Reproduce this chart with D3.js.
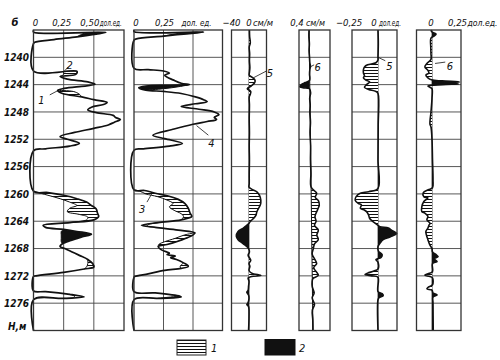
<!DOCTYPE html>
<html><head><meta charset="utf-8">
<script src="https://cdn.jsdelivr.net/npm/d3@7"></script>
<style>
body{margin:0;background:#fff;}
svg{display:block;}
text{font-family:"Liberation Sans Narrow","DejaVu Sans Condensed","Liberation Sans",sans-serif;font-style:italic;fill:#111;}
</style></head><body>
<svg id="c" width="500" height="360"></svg>
<script>
// ---------------- data ----------------
const depthTicks = [1240,1244,1248,1252,1256,1260,1264,1268,1272,1276];

// panel 1 (curves 1, 2), дол.ед.
const gk1 = [[1236.0,0],[1236.3,0],[1236.35,0.60],[1236.6,0.52],[1237.0,0.36],[1237.4,0.17],[1237.8,0.01],[1238.0,0],
 [1242.0,0],[1242.05,0.36],[1242.5,0.35],[1242.8,0.22],[1243.2,0.28],[1243.6,0.45],[1243.95,0.51],[1244.3,0.38],[1244.6,0.24],
 [1244.85,0.20],[1245.3,0.24],[1245.8,0.40],[1246.2,0.50],[1246.6,0.61],[1246.9,0.58],[1247.3,0.48],[1247.7,0.45],[1248.1,0.52],
 [1248.5,0.66],[1248.8,0.68],[1249.1,0.72],[1249.5,0.67],[1249.9,0.62],[1250.4,0.50],[1251.0,0.34],[1251.6,0.22],[1252.0,0.28],
 [1252.6,0.38],[1253.0,0.30],[1253.4,0.10],[1253.7,0],[1259.6,0],[1259.8,0.12],[1260.2,0.25],[1260.7,0.36],[1261.2,0.44],
 [1261.7,0.48],[1262.2,0.52],[1262.8,0.53],[1263.3,0.54],[1263.8,0.50],[1264.2,0.30],[1264.6,0.08],[1264.9,0.10],[1265.2,0.25],
 [1265.5,0.36],[1265.9,0.48],[1266.3,0.40],[1266.8,0.31],[1267.3,0.24],[1267.7,0.22],[1268.0,0.26],[1268.5,0.32],[1269.0,0.38],
 [1269.6,0.45],[1270.2,0.49],[1270.7,0.50],[1271.0,0.42],[1271.5,0.25],[1272.0,0.02],[1272.1,0],[1274.2,0],[1274.3,0.10],
 [1274.7,0.30],[1275.1,0.42],[1275.3,0.25],[1275.5,0],[1280,0]];
const gk1Alt = [
 {type:"black", pts:[[1236.35,0.60],[1236.5,0.42],[1237.0,0.36]]},
 {type:"hatch", pts:[[1242.05,0.36],[1242.15,0.25],[1242.5,0.25],[1242.8,0.22]]},
 {type:"hatch", pts:[[1244.85,0.20],[1245.0,0.33],[1245.4,0.38],[1245.8,0.40]]},
 {type:"hatch", pts:[[1259.6,0],[1259.7,0.02],[1260.2,0.12],[1260.7,0.22],[1261.2,0.30],[1261.7,0.36],[1262.1,0.30],[1262.6,0.28],[1263.0,0.38],[1263.4,0.45],[1263.8,0.44],[1264.2,0.30]]},
 {type:"black", pts:[[1265.2,0.25],[1265.5,0.23],[1266.0,0.23],[1266.5,0.23],[1267.0,0.23],[1267.3,0.24]]},
 {type:"hatch", pts:[[1269.6,0.45],[1270.2,0.45],[1270.7,0.44],[1271.0,0.42]]},
 {type:"hatch", pts:[[1274.7,0.30],[1275.0,0.34],[1275.2,0.33],[1275.3,0.25]]}
];

// panel 2 (curves 3, 4), дол.ед.
const gk2 = [[1236.0,0],[1236.25,0],[1236.3,0.59],[1236.6,0.42],[1236.9,0.25],[1237.3,0.02],[1237.5,0],[1241.6,0],[1241.8,0.12],
 [1242.0,0.25],[1242.3,0.30],[1242.6,0.26],[1242.9,0.28],[1243.3,0.33],[1243.8,0.40],[1244.0,0.47],[1244.1,0.30],[1244.2,0.10],
 [1244.45,0.04],[1244.8,0.10],[1245.0,0.25],[1245.3,0.40],[1245.8,0.52],[1246.2,0.59],[1246.5,0.62],[1246.8,0.52],[1247.2,0.40],
 [1247.6,0.55],[1248.0,0.68],[1248.4,0.72],[1248.8,0.68],[1249.1,0.70],[1249.4,0.62],[1249.8,0.50],[1250.5,0.34],[1251.4,0.16],
 [1251.9,0.26],[1252.6,0.41],[1253.0,0.30],[1253.4,0.08],[1253.6,0],[1259.4,0],[1259.5,0.09],[1259.9,0.18],[1260.3,0.29],
 [1260.8,0.375],[1261.4,0.43],[1262.1,0.46],[1262.8,0.475],[1263.3,0.49],[1263.8,0.40],[1264.2,0.205],[1264.6,0.063],[1264.9,0.18],
 [1265.3,0.375],[1265.7,0.517],[1266.0,0.50],[1266.5,0.44],[1267.0,0.36],[1267.4,0.28],[1267.7,0.205],[1268.2,0.233],[1268.7,0.30],
 [1268.9,0.28],[1269.1,0.35],[1269.35,0.31],[1269.6,0.36],[1270.1,0.42],[1270.6,0.46],[1270.9,0.40],[1271.2,0.26],[1271.7,0.12],
 [1272.1,0.006],[1272.2,0],[1274.3,0],[1274.5,0.18],[1275.0,0.39],[1275.1,0.40],[1275.3,0.2],[1275.5,0],[1280,0]];
const gk2Alt = [
 {type:"black", pts:[[1236.3,0.59],[1236.45,0.40],[1236.9,0.25]]},
 {type:"black", pts:[[1244.0,0.47],[1244.3,0.38],[1244.6,0.25],[1244.8,0.10]]},
 {type:"hatch", pts:[[1259.4,0],[1259.6,0.05],[1260.0,0.10],[1260.4,0.20],[1260.9,0.28],[1261.4,0.33],[1261.9,0.30],[1262.4,0.34],[1262.9,0.40],[1263.3,0.42],[1263.8,0.40]]},
 {type:"hatch", pts:[[1264.2,0.205],[1264.5,0.12],[1264.7,0.11],[1264.9,0.18]]},
 {type:"hatch", pts:[[1265.7,0.517],[1266.0,0.43],[1266.5,0.35],[1267.0,0.26],[1267.4,0.21],[1267.7,0.205]]},
 {type:"hatch", pts:[[1270.1,0.42],[1270.4,0.40],[1270.7,0.39],[1270.9,0.40]]},
 {type:"black", pts:[[1275.0,0.39],[1275.1,0.31],[1275.3,0.2]]}
];

// panel 3 (curve 5), см/м
const p3 = [[1236,1],[1237,1.5],[1237.9,3],[1238.5,0.5],[1239.5,1.5],[1240.5,1],[1241.5,2],[1242.2,1],[1242.6,0.5],[1243.0,9],
 [1243.4,14],[1243.8,12],[1244.2,5],[1244.6,-4],[1245.0,4],[1245.4,3],[1245.8,0.5],[1247,1],[1249,0.5],[1251,1],[1253,0.5],
 [1255,1],[1257,0.5],[1258.5,0.5],[1259.0,0],[1259.3,6],[1259.7,18],[1260.2,24],[1260.9,27],[1261.6,26],[1262.1,22],[1262.6,18],
 [1263.1,16],[1263.6,10],[1264.1,2],[1264.3,0],[1264.6,-5],[1265.0,-13],[1265.5,-25],[1266.2,-29],[1266.7,-25],[1267.3,-13],
 [1268.0,-1],[1268.5,1],[1269.0,-2],[1269.7,4],[1270.2,0],[1270.6,2],[1271.2,0],[1271.6,6],[1271.95,27],[1272.1,6],[1272.3,-2],
 [1272.8,0],[1273.5,-1],[1274.1,-2],[1274.4,-5],[1274.8,-1],[1275.3,0],[1275.9,-2],[1276.2,-5],[1276.5,-1],[1278,0],[1280,-1]];

// panel 4 (curve 6), см/м
const p4Base = [[1236,-0.07],[1280,-0.02]];
const p4 = [[1236,-0.07],[1237,-0.072],[1238,-0.066],[1239,-0.07],[1240,-0.064],[1240.8,-0.06],[1241.3,-0.052],[1241.8,-0.06],
 [1242.5,-0.064],[1243.0,-0.06],[1243.4,-0.065],[1243.7,-0.12],[1244.0,-0.17],[1244.3,-0.19],[1244.45,-0.15],[1244.6,-0.065],
 [1245.2,-0.05],[1246,-0.062],[1247,-0.055],[1248,-0.06],[1249.5,-0.052],[1251,-0.058],[1253,-0.05],[1255,-0.052],[1257,-0.046],
 [1259,-0.044],[1259.9,0.028],[1260.5,0.01],[1261.0,0.05],[1261.6,0.062],[1262.3,0.04],[1263.3,0.006],[1264.0,0.02],[1264.6,0.0],
 [1265.3,0.049],[1266.0,0.03],[1266.7,0.049],[1267.3,0.0],[1268,-0.015],[1268.8,-0.03],[1269.5,0.0],[1270.2,0.028],[1270.8,-0.01],
 [1271.9,0.049],[1272.4,-0.02],[1273.5,-0.03],[1274.5,-0.005],[1275.2,-0.03],[1276.2,0.0],[1277,-0.028],[1278.5,-0.022],[1280,-0.02]];

// panel 5 (curve 5), дол.ед.
const p5 = [[1236,0],[1238,0.003],[1240,0],[1240.4,0],[1240.8,-0.02],[1241.1,-0.10],[1241.4,-0.13],[1241.8,-0.14],[1242.3,-0.14],
 [1242.7,-0.13],[1243.0,-0.14],[1243.3,-0.12],[1243.6,-0.08],[1244.0,-0.11],[1244.4,-0.13],[1244.7,-0.09],[1245.0,-0.02],[1245.3,0],
 [1250,0.002],[1255,0],[1259.2,0],[1259.67,-0.09],[1259.9,-0.17],[1260.4,-0.21],[1260.9,-0.22],[1261.4,-0.19],[1261.6,-0.16],
 [1262.1,-0.17],[1262.3,-0.14],[1262.6,-0.11],[1263.1,-0.09],[1263.6,-0.08],[1264.1,-0.045],[1264.6,0],[1264.8,0.02],[1265.0,0.10],
 [1265.3,0.13],[1265.8,0.18],[1266.3,0.115],[1266.7,0.05],[1267.2,0.02],[1267.7,0],[1268.4,0.005],[1268.9,0.04],[1269.3,0.03],
 [1269.6,-0.02],[1270.0,0],[1271.0,0],[1271.3,-0.04],[1271.6,-0.10],[1271.8,-0.125],[1272.0,-0.06],[1272.2,0],[1274.3,0],
 [1274.6,0.04],[1274.9,0.05],[1275.2,0.01],[1275.5,0],[1280,0]];

// panel 6 (curve 6), дол.ед.
const p6 = [[1236.0,-0.01],[1236.3,0.0],[1236.6,0.04],[1236.9,0.02],[1237.2,-0.01],[1238.5,-0.012],[1239.5,-0.01],[1240.3,-0.01],
 [1240.9,-0.05],[1241.4,-0.07],[1241.9,-0.04],[1242.3,-0.03],[1242.6,-0.06],[1243.0,-0.04],[1243.3,-0.005],[1243.45,0.10],
 [1243.6,0.27],[1243.7,0.12],[1243.8,0.20],[1243.9,0.26],[1244.0,0.10],[1244.2,-0.04],[1244.4,-0.02],[1244.6,0],[1246,0],
 [1248,-0.01],[1249.8,-0.02],[1250.2,-0.01],[1252,0],[1255,0.005],[1258,0.01],[1259.1,0.005],[1259.4,-0.036],[1259.8,-0.085],
 [1260.4,-0.08],[1260.6,-0.04],[1261.1,-0.08],[1261.9,-0.10],[1262.6,-0.10],[1262.8,-0.07],[1263.3,-0.04],[1263.8,-0.05],
 [1264.3,-0.02],[1264.6,-0.03],[1265.0,-0.04],[1265.5,-0.06],[1266.0,-0.055],[1266.7,-0.04],[1267.5,-0.02],[1268.0,0],
 [1268.5,0.005],[1268.9,0.04],[1269.2,0.06],[1269.5,0.02],[1269.9,0.05],[1270.2,0.005],[1271.4,0.005],[1271.7,-0.04],
 [1271.9,-0.07],[1272.1,-0.02],[1272.3,0.005],[1273.3,0.005],[1273.7,-0.04],[1273.9,-0.05],[1274.1,0],[1274.5,0.01],
 [1274.8,0.05],[1275.1,0.01],[1276,0.01],[1280,0.012]];

const legendLabels = ["1","2"];

// ---------------- drawing ----------------
const svg = d3.select("#c");
const TOP = 30, BOT = 330.5;
const y = d3.scaleLinear().domain([1236,1280]).range([TOP,BOT]);
const cr = d3.curveCatmullRom.alpha(0.5);

const defs = svg.append("defs");
const pat = defs.append("pattern").attr("id","hatch").attr("patternUnits","userSpaceOnUse")
  .attr("width",6).attr("height",3);
pat.append("rect").attr("width",6).attr("height",3).attr("fill","#fff");
pat.append("line").attr("x1",0).attr("x2",6).attr("y1",1.5).attr("y2",1.5)
  .attr("stroke","#111").attr("stroke-width",1);
const fillOf = t => t === "hatch" ? "url(#hatch)" : "#111";

const P = [
  {x:d3.scaleLinear().domain([0,0.75]).range([33.5,124]), l:33.5, r:124, vg:[0.25,0.5]},
  {x:d3.scaleLinear().domain([0,0.75]).range([134,222.5]), l:134, r:222.5, vg:[0.25,0.5]},
  {x:d3.scaleLinear().domain([-40,40]).range([231.5,266.5]), l:231.5, r:266.5, vg:[0]},
  {x:d3.scaleLinear().domain([-0.2,0.2]).range([299,330]), l:299, r:330, vg:[]},
  {x:d3.scaleLinear().domain([-0.25,0]).range([352,378]), l:352, r:397, vg:[0]},
  {x:d3.scaleLinear().domain([0,0.25]).range([432,457.5]), l:416.5, r:461, vg:[0]}
];

// grid
const grid = svg.append("g");
P.forEach(p => {
  grid.selectAll(null).data(depthTicks).join("line")
    .attr("x1",p.l).attr("x2",p.r).attr("y1",d=>y(d)).attr("y2",d=>y(d))
    .attr("stroke","#444").attr("stroke-width",0.9);
  grid.selectAll(null).data(p.vg).join("line")
    .attr("x1",d=>p.x(d)).attr("x2",d=>p.x(d)).attr("y1",TOP).attr("y2",BOT)
    .attr("stroke","#444").attr("stroke-width",0.9);
});

// panels 1,2: two curves with filled zones
function twoCurve(p, main, alts) {
  const g = svg.append("g");
  const line = d3.line().x(d=>p.x(d[1])).y(d=>y(d[0])).curve(cr);
  alts.forEach(a => {
    const d0 = a.pts[0][0], d1 = a.pts[a.pts.length-1][0];
    const seg = main.filter(q => q[0] >= d0 && q[0] <= d1);
    const poly = seg.concat(a.pts.slice().reverse());
    g.append("path").attr("d", line(poly) + "Z").attr("fill", fillOf(a.type)).attr("stroke","none");
  });
  alts.forEach(a => {
    g.append("path").attr("d", line(a.pts)).attr("fill","none").attr("stroke","#111").attr("stroke-width",1);
  });
  g.append("path").attr("d", line(main)).attr("fill","none").attr("stroke","#111").attr("stroke-width",1.7)
    .attr("stroke-linejoin","round");
}
twoCurve(P[0], gk1, gk1Alt);
twoCurve(P[1], gk2, gk2Alt);

// panels 3-6: curve against a baseline, hatched on one side, black on the other
let clipN = 0;
function baseCurve(p, data, base, rightType, drawBase) {
  const g = svg.append("g");
  const bs = d3.scaleLinear().domain(base.map(d=>d[0])).range(base.map(d=>d[1]));
  const area = d3.area().y(d=>y(d[0])).x0(d=>p.x(bs(d[0]))).x1(d=>p.x(d[1])).curve(cr);
  const bpts = base.map(d=>[p.x(d[1]), y(d[0])]);
  const sides = [
    {pts:[[p.l-5,y(base[0][0])], ...bpts, [p.l-5,y(base[base.length-1][0])]], type: rightType==="hatch"?"black":"hatch"},
    {pts:[[p.r+5,y(base[0][0])], ...bpts, [p.r+5,y(base[base.length-1][0])]], type: rightType}
  ];
  sides.forEach(s => {
    const id = "clip" + (clipN++);
    defs.append("clipPath").attr("id",id).append("polygon").attr("points", s.pts.map(q=>q.join(",")).join(" "));
    g.append("path").attr("d", area(data)).attr("fill", fillOf(s.type)).attr("clip-path",`url(#${id})`);
  });
  if (drawBase) {
    g.append("path").attr("d", d3.line().x(d=>p.x(d[1])).y(d=>y(d[0]))(base))
      .attr("fill","none").attr("stroke","#111").attr("stroke-width",1);
  }
  g.append("path").attr("d", d3.line().x(d=>p.x(d[1])).y(d=>y(d[0])).curve(cr)(data))
    .attr("fill","none").attr("stroke","#111").attr("stroke-width",1.6).attr("stroke-linejoin","round");
}
baseCurve(P[2], p3, [[1236,0],[1280,0]], "hatch", false);
baseCurve(P[3], p4, p4Base, "hatch", true);
baseCurve(P[4], p5, [[1236,0],[1280,0]], "black", false);
baseCurve(P[5], p6, [[1236,0],[1280,0]], "black", false);

// frames
svg.append("g").selectAll("rect").data(P).join("rect")
  .attr("x",p=>p.l).attr("y",TOP).attr("width",p=>p.r-p.l).attr("height",BOT-TOP)
  .attr("fill","none").attr("stroke","#333").attr("stroke-width",1.3);

// depth axis
const ax = svg.append("g").attr("transform","translate(31,0)")
  .call(d3.axisLeft(y).tickValues(depthTicks).tickSize(0).tickPadding(2).tickFormat(d3.format("d")));
ax.select(".domain").remove();
ax.selectAll("text").attr("font-size",10).attr("font-weight","bold").attr("font-family",null).attr("fill","#111");

// header labels
const hdr = svg.append("g").attr("font-size",9.5);
const fmt = v => String(v).replace(".",",").replace("-","\u2212");
function hlabel(x, t, anchor, len) {
  const el = hdr.append("text").attr("x",x).attr("y",26).attr("text-anchor",anchor||"middle").text(t);
  if (len) el.attr("textLength",len).attr("lengthAdjust","spacingAndGlyphs");
}
hlabel(P[0].x(0)+2, "0"); hlabel(P[0].x(0.25)-2, "0,25"); hlabel(P[0].x(0.5)-4, "0,50");
hlabel(P[0].x(0.5)+6, "дол.ед.", "start", 22);
hlabel(P[1].x(0)+2, "0"); hlabel(P[1].x(0.25)+1, "0,25"); hlabel(P[1].x(0.25)+18, "дол. ед.", "start", 30);
hlabel(P[2].x(-40), fmt(-40)); hlabel(P[2].x(0), "0"); hlabel(P[2].x(0)+4, "см/м", "start", 20);
hlabel(P[3].l-2, "0,4"); hlabel(P[3].l+7, "см/м", "start", 19);
hlabel(P[4].x(-0.25)-3, fmt(-0.25)); hlabel(P[4].x(0)-4, "0"); hlabel(P[4].x(0)+1, "дол.ед.", "start", 22);
hlabel(P[5].x(0)-1, "0"); hlabel(P[5].x(0.25), "0,25"); hlabel(P[5].x(0.25)+10, "дол.ед.", "start", 30);

svg.append("text").attr("x",15).attr("y",26).attr("text-anchor","middle")
  .attr("font-size",11).attr("font-weight","bold").text("б");
svg.append("text").attr("x",8).attr("y",330).attr("font-size",10).attr("font-weight","bold").text("Н,м");

// curve annotations
const ann = [
  {p:0, a:[1242.0,0.256], b:[1241.4,0.29], t:"2", tx:[1241.1,0.30]},
  {p:0, a:[1244.8,0.21], b:[1245.5,0.135], t:"1", tx:[1246.3,0.065]},
  {p:1, a:[1250.0,0.53], b:[1251.4,0.63], t:"4", tx:[1252.6,0.655]},
  {p:1, a:[1260.0,0.15], b:[1261.2,0.11], t:"3", tx:[1262.2,0.07]},
  {p:2, a:[1243.0,10], b:[1242.0,40], t:"5", tx:[1242.3,48]},
  {p:3, a:[1241.4,-0.055], b:[1241.1,-0.005], t:"6", tx:[1241.4,0.04]},
  {p:4, a:[1240.0,0], b:[1240.5,0.07], t:"5", tx:[1241.2,0.11]},
  {p:5, a:[1240.9,0.03], b:[1240.7,0.13], t:"6", tx:[1241.2,0.175]}
];
const ag = svg.append("g");
ann.forEach(n => {
  const p = P[n.p];
  ag.append("line").attr("x1",p.x(n.a[1])).attr("y1",y(n.a[0])).attr("x2",p.x(n.b[1])).attr("y2",y(n.b[0]))
    .attr("stroke","#111").attr("stroke-width",0.8);
  ag.append("text").attr("x",p.x(n.tx[1])).attr("y",y(n.tx[0])+4).attr("text-anchor","middle")
    .attr("font-size",11).text(n.t);
});

// legend
const lg = svg.append("g");
lg.append("rect").attr("x",177).attr("y",340).attr("width",29).attr("height",15)
  .attr("fill","url(#hatch)").attr("stroke","#222").attr("stroke-width",1);
lg.append("rect").attr("x",265).attr("y",339.5).attr("width",30).attr("height",15.5)
  .attr("fill","#111").attr("stroke","#111");
lg.append("text").attr("x",211).attr("y",352).attr("font-size",11).text(legendLabels[0]);
lg.append("text").attr("x",299).attr("y",352).attr("font-size",11).text(legendLabels[1]);
</script>
</body></html>
